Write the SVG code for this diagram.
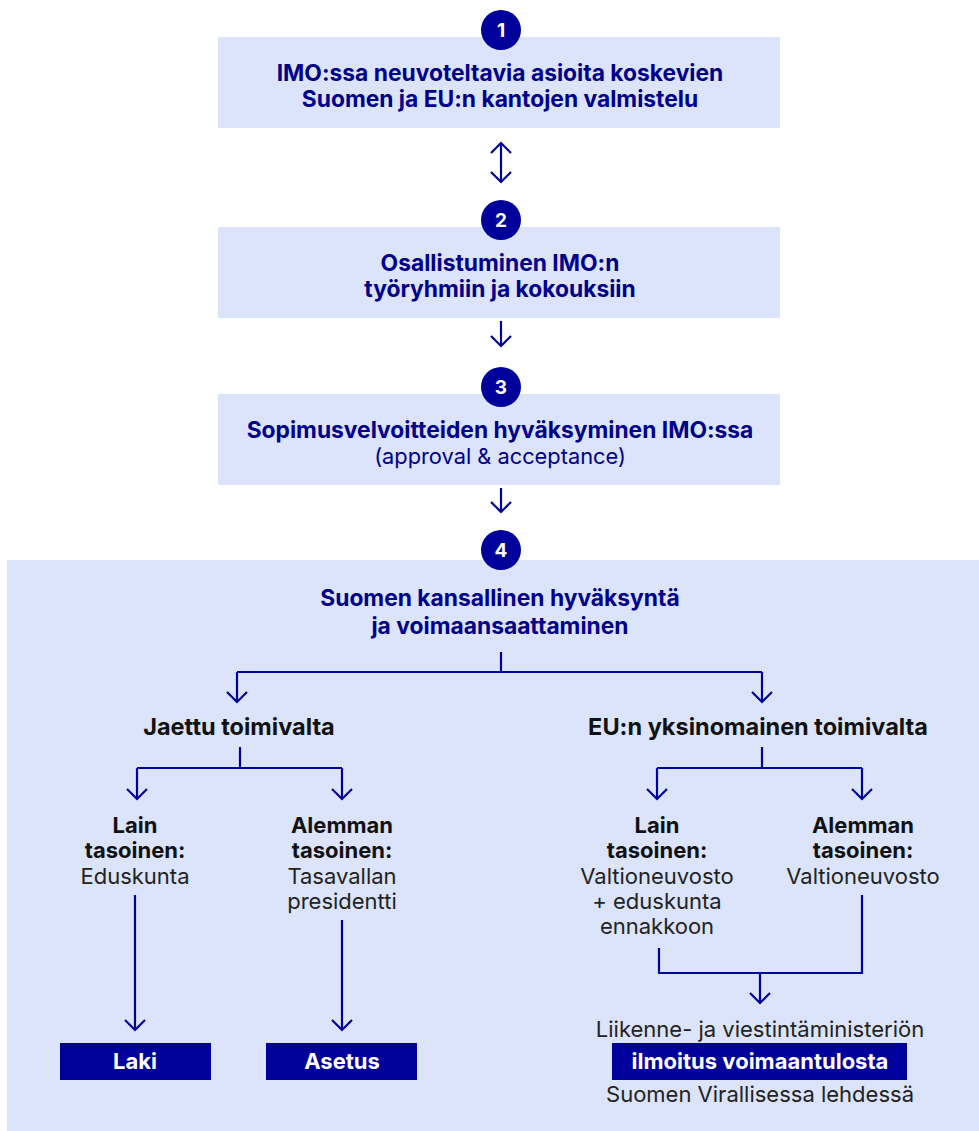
<svg xmlns="http://www.w3.org/2000/svg" width="979" height="1131" viewBox="0 0 979 1131">
<defs>
<marker id="ah" markerUnits="userSpaceOnUse" markerWidth="24" markerHeight="24" viewBox="-12 -12 24 24" refX="0" refY="0" orient="auto-start-reverse">
<path d="M-10,-10 L0,0 L-10,10" fill="none" stroke="#00009a" stroke-width="2.2"/>
</marker>
</defs>
<style>
.box{fill:#dbe4fb}
.badge{fill:#00009a}
.num{fill:#fff;font-family:Inter,"Liberation Sans",sans-serif;font-weight:700;font-size:19px;text-anchor:middle}
.ttl{fill:#00008c;font-family:Inter,"Liberation Sans",sans-serif;font-weight:700;font-size:22.8px;text-anchor:middle}
.sub{fill:#00008c;font-family:Inter,"Liberation Sans",sans-serif;font-size:21.8px;text-anchor:middle}
.hd{fill:#111;font-family:Inter,"Liberation Sans",sans-serif;font-weight:700;font-size:23.5px;text-anchor:middle}
.b{fill:#111;font-family:Inter,"Liberation Sans",sans-serif;font-weight:700;font-size:22px;text-anchor:middle}
.r{fill:#222;font-family:Inter,"Liberation Sans",sans-serif;font-size:22px;text-anchor:middle}
.dark{fill:#00009a}
.w{fill:#fff;font-family:Inter,"Liberation Sans",sans-serif;font-weight:700;font-size:22px;text-anchor:middle}
.ln{fill:none;stroke:#00009a;stroke-width:2.2}
.arr{fill:none;stroke:#00009a;stroke-width:2.2;marker-end:url(#ah)}
</style>
<rect width="979" height="1131" fill="#fff"/>

<g id="step1">
<rect class="box" x="218" y="37" width="562" height="91"/>
<circle class="badge" cx="501" cy="30" r="20"/>
<text class="num" x="501" y="37">1</text>
<text class="ttl" x="500" y="81">IMO:ssa neuvoteltavia asioita koskevien</text>
<text class="ttl" x="500" y="107">Suomen ja EU:n kantojen valmistelu</text>
</g>

<g id="step2">
<rect class="box" x="218" y="227" width="562" height="91"/>
<circle class="badge" cx="501" cy="220" r="20"/>
<text class="num" x="501" y="227">2</text>
<text class="ttl" x="500" y="271">Osallistuminen IMO:n</text>
<text class="ttl" x="500" y="297">työryhmiin ja kokouksiin</text>
</g>

<g id="step3">
<rect class="box" x="218" y="394" width="562" height="91"/>
<circle class="badge" cx="501" cy="387" r="20"/>
<text class="num" x="501" y="394">3</text>
<text class="ttl" x="500" y="438">Sopimusvelvoitteiden hyväksyminen IMO:ssa</text>
<text class="sub" x="500" y="464">(approval &amp; acceptance)</text>
</g>

<g id="step4">
<rect class="box" x="7" y="560" width="972" height="571"/>
<circle class="badge" cx="501" cy="550" r="20"/>
<text class="num" x="501" y="557">4</text>
<text class="ttl" x="500" y="606">Suomen kansallinen hyväksyntä</text>
<text class="ttl" x="500" y="634">ja voimaansaattaminen</text>
</g>

<g id="jaettu">
<text class="hd" x="239" y="735">Jaettu toimivalta</text>
</g>
<g id="eu">
<text class="hd" x="758" y="735">EU:n yksinomainen toimivalta</text>
</g>

<g id="lain1">
<text class="b" x="135" y="833">Lain</text>
<text class="b" x="135" y="858">tasoinen:</text>
<text class="r" x="135" y="884">Eduskunta</text>
</g>
<g id="alemman1">
<text class="b" x="342" y="833">Alemman</text>
<text class="b" x="342" y="858">tasoinen:</text>
<text class="r" x="342" y="884">Tasavallan</text>
<text class="r" x="342" y="909">presidentti</text>
</g>
<g id="lain2">
<text class="b" x="657" y="833">Lain</text>
<text class="b" x="657" y="858">tasoinen:</text>
<text class="r" x="657" y="884">Valtioneuvosto</text>
<text class="r" x="657" y="909">+ eduskunta</text>
<text class="r" x="657" y="934">ennakkoon</text>
</g>
<g id="alemman2">
<text class="b" x="863" y="833">Alemman</text>
<text class="b" x="863" y="858">tasoinen:</text>
<text class="r" x="863" y="884">Valtioneuvosto</text>
</g>

<g id="laki">
<rect class="dark" x="60" y="1043" width="151" height="37"/>
<text class="w" x="135" y="1069">Laki</text>
</g>
<g id="asetus">
<rect class="dark" x="266" y="1043" width="151" height="37"/>
<text class="w" x="342" y="1069">Asetus</text>
</g>
<g id="ilmoitus">
<text class="r" x="760" y="1037">Liikenne- ja viestintäministeriön</text>
<rect class="dark" x="612" y="1043" width="295" height="37"/>
<text class="w" x="760" y="1069">ilmoitus voimaantulosta</text>
<text class="r" x="760" y="1102">Suomen Virallisessa lehdessä</text>
</g>

<g id="connectors">
<path class="arr" d="M501,143 L501,182" style="marker-start:url(#ah)"/>
<path class="arr" d="M501,321 L501,346"/>
<path class="arr" d="M501,488 L501,512"/>
<path class="ln" d="M501,652 L501,672 M237,672 L762,672"/>
<path class="arr" d="M237,672 L237,702"/>
<path class="arr" d="M762,672 L762,702"/>
<path class="ln" d="M240,747 L240,768 M137,768 L342,768"/>
<path class="arr" d="M137,768 L137,799"/>
<path class="arr" d="M342,768 L342,799"/>
<path class="ln" d="M762,747 L762,768 M657,768 L862,768"/>
<path class="arr" d="M657,768 L657,799"/>
<path class="arr" d="M862,768 L862,799"/>
<path class="arr" d="M135,895 L135,1030"/>
<path class="arr" d="M342,920 L342,1030"/>
<path class="ln" d="M659,948 L659,973 L862,973 L862,895"/>
<path class="arr" d="M760,973 L760,1003"/>
</g>
</svg>
